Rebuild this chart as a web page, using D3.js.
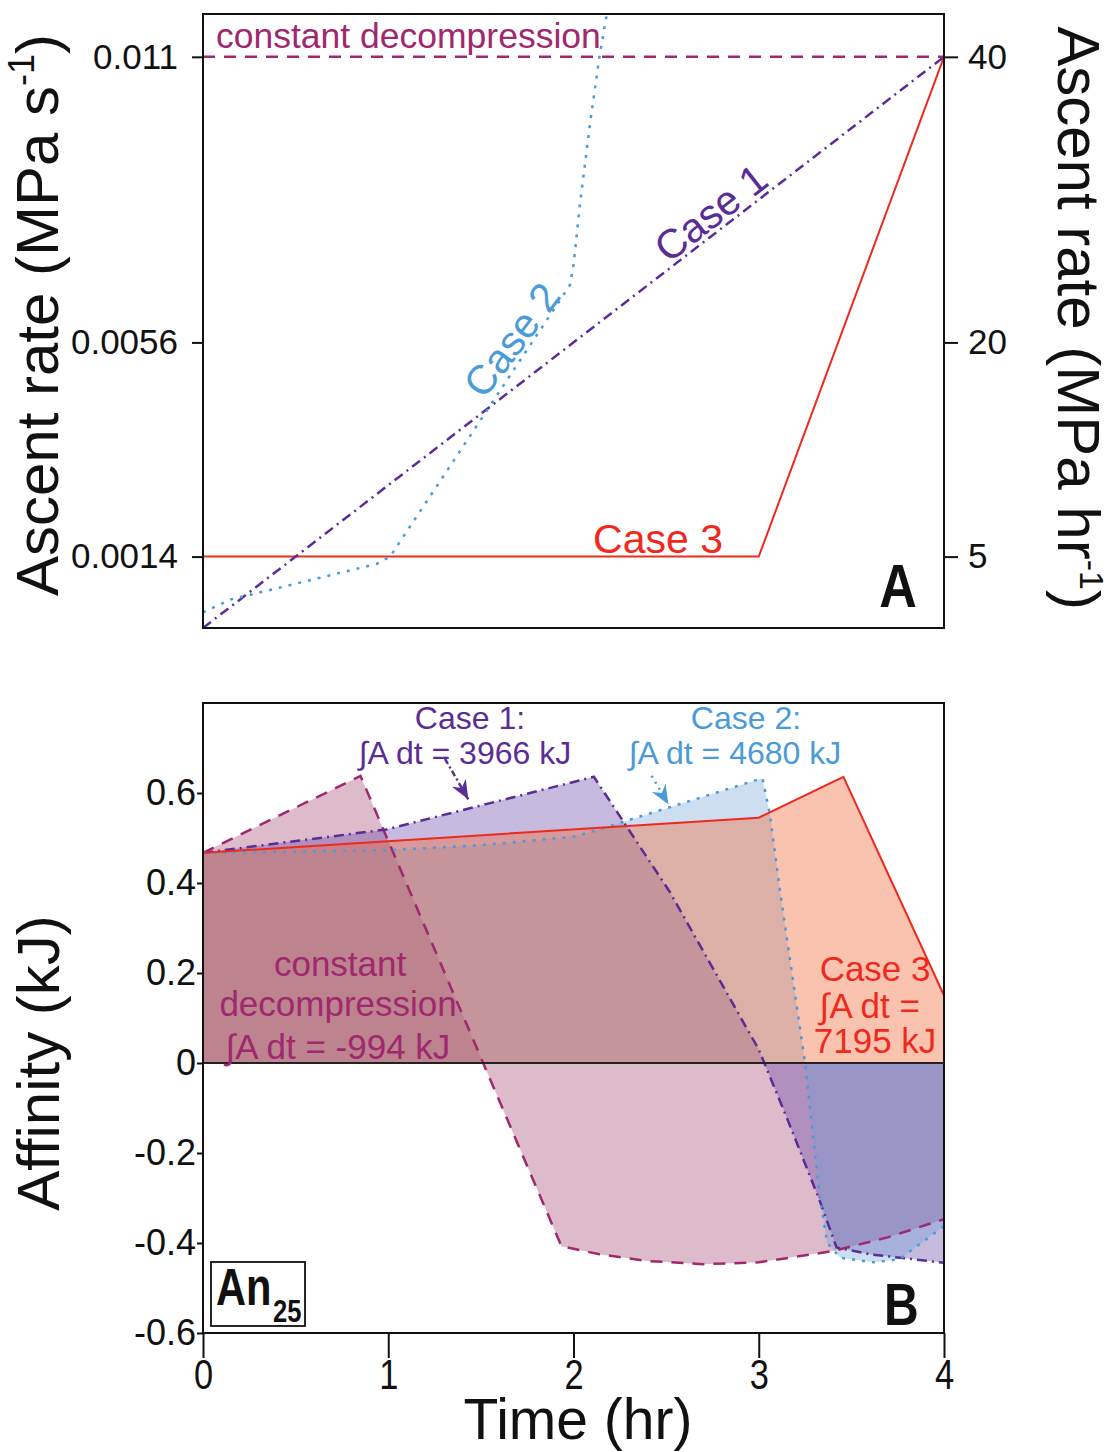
<!DOCTYPE html>
<html>
<head>
<meta charset="utf-8">
<script src="https://cdn.jsdelivr.net/npm/d3@7"></script>
<style>
body { margin: 0; background: #fff; }
text { font-family: "Liberation Sans", Arial, "DejaVu Sans", sans-serif; }
</style>
</head>
<body>
<svg id="chart" width="1117" height="1452"></svg>
<script>
// ---- data (time in hr) ----
const timeTicks = [0, 1, 2, 3, 4];
const rateTicksHr = [40, 20, 5];
const rateTickLabelsS = ["0.011", "0.0056", "0.0014"];
const affinityTicks = [0.6, 0.4, 0.2, 0, -0.2, -0.4, -0.6];

// panel A: ascent rate (MPa/hr)
const rateConst = [[0, 40], [4, 40]];
const rateCase1 = [[0, 0], [4, 40]];
const rateCase2 = [[0, 1.1], [0.15, 2.0], [0.5, 3.1], [0.94, 4.5], [1.01, 5], [1.98, 24.0], [2.0, 25.4],
	[2.035, 29.7], [2.09, 35.4], [2.14, 40], [2.18, 43]];
const rateCase3 = [[0, 5], [3, 5], [4, 40]];

// panel B: affinity (kJ)
const affConst = [[0, 0.467], [0.85, 0.638], [1.935, -0.407], [2.14, -0.425], [2.4, -0.44], [2.7, -0.447],
	[3.0, -0.443], [3.4, -0.418], [3.7, -0.387], [4.0, -0.347]];
const affCase1 = [[0, 0.467], [0.99, 0.519], [2.11, 0.636], [2.52, 0.38], [3.0, 0.03], [3.15, -0.12],
	[3.33, -0.307], [3.42, -0.41], [3.6, -0.425], [4.0, -0.444]];
const affCase2 = [[0, 0.467], [1.0, 0.473], [1.5, 0.484], [2.0, 0.503], [2.09, 0.513], [3.02, 0.633],
	[3.06, 0.553], [3.115, 0.382], [3.25, 0], [3.33, -0.30], [3.37, -0.40], [3.44, -0.433], [3.62, -0.443],
	[3.76, -0.436], [4.0, -0.362]];
const affCase3 = [[0, 0.467], [3.0, 0.545], [3.457, 0.636], [4.0, 0.15]];

const integralText = ["∫A dt = 3966 kJ", "∫A dt = 4680 kJ", "∫A dt = -994 kJ", "7195 kJ"];

// ---- styles ----
const colConst = "#a0286e", colCase1 = "#5a2d96", colCase2 = "#4b9bd7", colCase3 = "#ee2a1e";
const dashConst = "12,9", dashCase1 = "10,5,2,5", dashCase2 = "3,7";

const pA = {left: 203, right: 944, top: 14, bottom: 628};
const pB = {left: 203, right: 944, top: 703, bottom: 1333};

const svg = d3.select("#chart");
const defs = svg.append("defs");

const xA = d3.scaleLinear().domain([0, 4]).range([pA.left, pA.right]);
const yA = d3.scaleLinear().domain([0, 43]).range([pA.bottom, pA.top]);
const xB = d3.scaleLinear().domain([0, 4]).range([pB.left, pB.right]);
const yB = d3.scaleLinear().domain([-0.6, 0.8]).range([pB.bottom, pB.top]);

function addClip(id, p) {
	defs.append("clipPath").attr("id", id).append("rect")
		.attr("x", p.left).attr("y", p.top)
		.attr("width", p.right - p.left).attr("height", p.bottom - p.top);
}
addClip("clipA", pA);
addClip("clipB", pB);

function addArrowMarker(id, color) {
	defs.append("marker")
		.attr("id", id)
		.attr("viewBox", "-20 -10 22 20")
		.attr("refX", 0).attr("refY", 0)
		.attr("markerWidth", 22).attr("markerHeight", 20)
		.attr("markerUnits", "userSpaceOnUse")
		.attr("orient", "auto")
		.append("path")
		.attr("d", "M0,0 L-19,-8 L-13,0 L-19,8 Z")
		.attr("fill", color);
}
addArrowMarker("arrow1", colCase1);
addArrowMarker("arrow2", colCase2);

function drawText(g, str, x, y, size, color, anchor) {
	return g.append("text").text(str)
		.attr("x", x).attr("y", y)
		.attr("font-size", size)
		.attr("fill", color)
		.style("text-anchor", anchor || "middle");
}

// ================= panel A =================
const gA = svg.append("g");
const gAlines = gA.append("g").attr("clip-path", "url(#clipA)");
const lineA = d3.line().x(d => xA(d[0])).y(d => yA(d[1]));

function drawLine(g, data, line, color, dash, width) {
	g.append("path").datum(data)
		.attr("d", line)
		.attr("fill", "none")
		.attr("stroke", color)
		.attr("stroke-width", width)
		.attr("stroke-dasharray", dash);
}
drawLine(gAlines, rateCase3, lineA, colCase3, null, 2);
drawLine(gAlines, rateCase1, lineA, colCase1, dashCase1, 2.5);
drawLine(gAlines, rateCase2, lineA, colCase2, dashCase2, 2.5);
drawLine(gAlines, rateConst, lineA, colConst, dashConst, 2.5);

gA.append("rect")
	.attr("x", pA.left).attr("y", pA.top)
	.attr("width", pA.right - pA.left).attr("height", pA.bottom - pA.top)
	.attr("fill", "none").attr("stroke", "#111").attr("stroke-width", 2);

const axLeftA = gA.append("g").attr("transform", "translate(" + pA.left + ",0)")
	.call(d3.axisLeft(yA).tickValues(rateTicksHr).tickFormat((d, i) => rateTickLabelsS[i]).tickSize(11).tickPadding(14));
const axRightA = gA.append("g").attr("transform", "translate(" + pA.right + ",0)")
	.call(d3.axisRight(yA).tickValues(rateTicksHr).tickSize(14).tickPadding(10));
[axLeftA, axRightA].forEach(a => {
	a.select(".domain").remove();
	a.selectAll("line").attr("stroke", "#111").attr("stroke-width", 2);
	a.selectAll("text").attr("font-size", 35).attr("fill", "#111")
		.attr("font-family", "'Liberation Sans', Arial, sans-serif");
});

// labels panel A
drawText(gA, "constant decompression", xA(0.07), yA(40.6), 35.5, colConst, "start");
drawText(gA, "Case 3", xA(2.807), yA(5.25), 41, colCase3, "end");
drawText(gA, "Case 1", 0, 0, 41, colCase1)
	.attr("dominant-baseline", "central")
	.attr("transform", "translate(" + xA(2.742) + "," + yA(29.06) + ") rotate(-38)");
drawText(gA, "Case 2", 0, 0, 41, colCase2)
	.attr("dominant-baseline", "central")
	.attr("transform", "translate(" + xA(1.668) + "," + yA(20.17) + ") rotate(-53)");
drawText(gA, "A", 0, 0, 62, "#111")
	.attr("font-weight", "bold")
	.attr("transform", "translate(" + (pA.right - 46) + "," + (pA.bottom - 21) + ") scale(0.84,1)");

// axis titles panel A
const tLeft = gA.append("text").attr("font-size", 60).attr("fill", "#111")
	.style("text-anchor", "middle")
	.attr("transform", "translate(58,315) rotate(-90)");
tLeft.append("tspan").text("Ascent rate (MPa s");
tLeft.append("tspan").text("-1").attr("font-size", 36).attr("dy", -24);
tLeft.append("tspan").text(")").attr("dy", 24);

const tRight = gA.append("text").attr("font-size", 60).attr("fill", "#111")
	.style("text-anchor", "middle")
	.attr("transform", "translate(1058,318) rotate(90)");
tRight.append("tspan").text("Ascent rate (MPa hr");
tRight.append("tspan").text("-1").attr("font-size", 34).attr("dy", -22);
tRight.append("tspan").text(")").attr("dy", 22);

// ================= panel B =================
const gB = svg.append("g");
const gBfill = gB.append("g").attr("clip-path", "url(#clipB)");
const areaB = d3.area().x(d => xB(d[0])).y0(yB(0)).y1(d => yB(d[1]));
const lineB = d3.line().x(d => xB(d[0])).y(d => yB(d[1]));

const seriesB = [
	{data: affConst, color: colConst, fill: "#9a3060", op: 0.33, dash: dashConst, w: 2.5},
	{data: affCase1, color: colCase1, fill: "#6a4aaa", op: 0.38, dash: dashCase1, w: 2.5},
	{data: affCase2, color: colCase2, fill: "#6fa0d8", op: 0.35, dash: dashCase2, w: 2.5},
	{data: affCase3, color: colCase3, fill: "#f26a3a", op: 0.40, dash: null, w: 2}
];
seriesB.forEach(s => {
	gBfill.append("path").datum(s.data)
		.attr("d", areaB)
		.attr("fill", s.fill)
		.attr("fill-opacity", s.op);
});
seriesB.forEach(s => {
	drawLine(gBfill, s.data, lineB, s.color, s.dash, s.w);
});

// zero line
gB.append("line")
	.attr("x1", pB.left).attr("x2", pB.right)
	.attr("y1", yB(0)).attr("y2", yB(0))
	.attr("stroke", "#222").attr("stroke-width", 2);

gB.append("rect")
	.attr("x", pB.left).attr("y", pB.top)
	.attr("width", pB.right - pB.left).attr("height", pB.bottom - pB.top)
	.attr("fill", "none").attr("stroke", "#111").attr("stroke-width", 2);

const axLeftB = gB.append("g").attr("transform", "translate(" + pB.left + ",0)")
	.call(d3.axisLeft(yB).tickValues(affinityTicks).tickFormat(d => String(d)).tickSize(6).tickPadding(1));
axLeftB.select(".domain").remove();
axLeftB.selectAll("line").attr("stroke", "#111").attr("stroke-width", 2);
axLeftB.selectAll("text").attr("font-size", 36).attr("fill", "#111")
	.attr("font-family", "'Liberation Sans', Arial, sans-serif");

const axBottomB = gB.append("g").attr("transform", "translate(0," + pB.bottom + ")")
	.call(d3.axisBottom(xB).tickValues(timeTicks).tickFormat(d3.format("d")).tickSize(25).tickPadding(0));
axBottomB.select(".domain").remove();
axBottomB.selectAll("line").attr("stroke", "#111").attr("stroke-width", 2);
axBottomB.selectAll("text").attr("font-size", 43).attr("fill", "#111")
	.attr("font-family", "'Liberation Sans', Arial, sans-serif")
	.attr("transform", "scale(0.8,1)");

drawText(gB, "Time (hr)", 578, 1439, 57, "#111");
drawText(gB, "Affinity (kJ)", 0, 0, 60, "#111")
	.attr("transform", "translate(59," + yB(0) + ") rotate(-90)");

// annotations panel B
drawText(gB, "Case 1:", xB(1.441), yB(0.742), 32, colCase1);
drawText(gB, integralText[0], xB(1.414), yB(0.665), 32, colCase1);
drawText(gB, "Case 2:", xB(2.931), yB(0.742), 32, colCase2);
drawText(gB, integralText[1], xB(2.872), yB(0.665), 32, colCase2);
drawText(gB, "constant", xB(0.74), yB(0.193), 35, colConst);
drawText(gB, "decompression", xB(0.729), yB(0.104), 35, colConst);
drawText(gB, integralText[2], xB(0.729), yB(0.009), 35, colConst);
drawText(gB, "Case 3", xB(3.628), yB(0.182), 35, colCase3);
drawText(gB, "∫A dt =", xB(3.60), yB(0.10), 35, colCase3);
drawText(gB, integralText[3], xB(3.628), yB(0.022), 35, colCase3);

// arrows
gB.append("line")
	.attr("x1", xB(1.306)).attr("y1", yB(0.676))
	.attr("x2", xB(1.432)).attr("y2", yB(0.586))
	.attr("stroke", colCase1).attr("stroke-width", 2.5)
	.attr("stroke-dasharray", "6,3,2,3")
	.attr("marker-end", "url(#arrow1)");
gB.append("line")
	.attr("x1", xB(2.422)).attr("y1", yB(0.638))
	.attr("x2", xB(2.512)).attr("y2", yB(0.575))
	.attr("stroke", colCase2).attr("stroke-width", 2.5)
	.attr("stroke-dasharray", "2,5")
	.attr("marker-end", "url(#arrow2)");

// An25 box
gB.append("rect")
	.attr("x", 211).attr("y", 1262).attr("width", 94).attr("height", 64)
	.attr("fill", "#fff").attr("stroke", "#111").attr("stroke-width", 1.8);
drawText(gB, "An", 0, 0, 52, "#111", "start")
	.attr("font-weight", "bold")
	.attr("transform", "translate(216,1305) scale(0.8,1)");
drawText(gB, "25", 0, 0, 32, "#111", "start")
	.attr("font-weight", "bold")
	.attr("transform", "translate(273,1322) scale(0.8,1)");

drawText(gB, "B", 0, 0, 60, "#111", "start")
	.attr("font-weight", "bold")
	.attr("transform", "translate(884,1325) scale(0.8,1)");
</script>
</body>
</html>
